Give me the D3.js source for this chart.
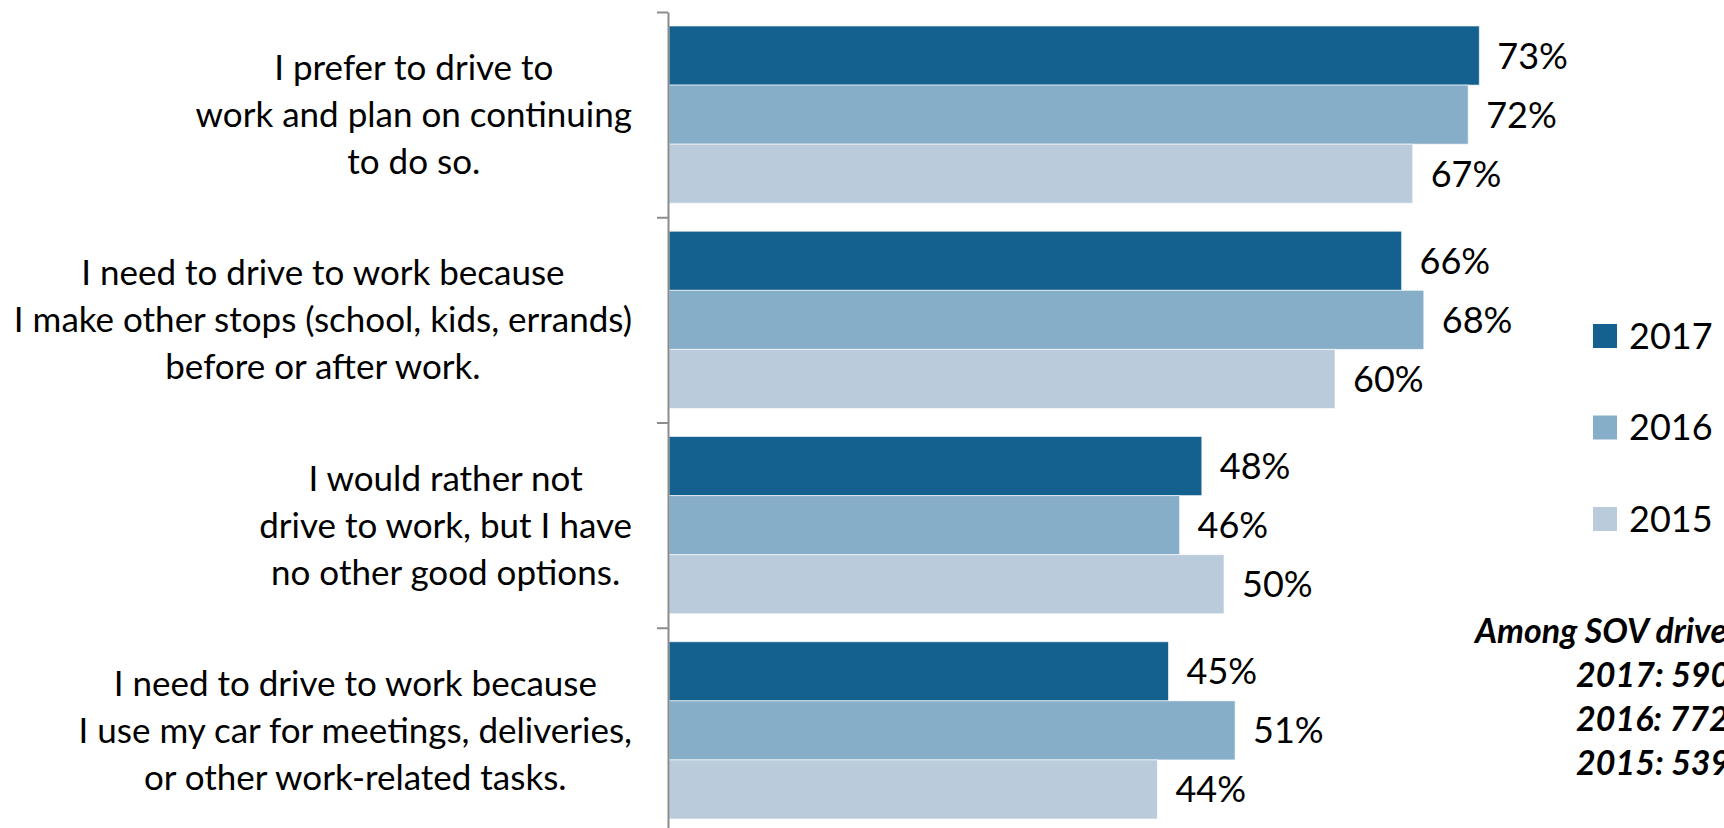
<!DOCTYPE html>
<html>
<head>
<meta charset="utf-8">
<script src="https://cdn.jsdelivr.net/npm/d3@7"></script>
<style>
  body { margin: 0; background: #ffffff; }
  svg { display: block; }
  text { font-family: Lato, "Open Sans", "Noto Sans", sans-serif; fill: #000; }
</style>
</head>
<body>
<svg id="chart" width="1724" height="828"></svg>
<script>
// Survey statements (one entry per line of the wrapped label)
const categories = [
  "I prefer to drive to\nwork and plan on continuing\nto do so.",
  "I need to drive to work because\nI make other stops (school, kids, errands)\nbefore or after work.",
  "I would rather not\ndrive to work, but I have\nno other good options.",
  "I need to drive to work because\nI use my car for meetings, deliveries,\nor other work-related tasks."
];
const years = ["2017", "2016", "2015"];
const values2017 = [0.73, 0.66, 0.48, 0.45];
const values2016 = [0.72, 0.68, 0.46, 0.51];
const values2015 = [0.67, 0.60, 0.50, 0.44];
const yearColors = ["#14608F", "#87AEC8", "#BACBDC"];
const sampleNote = ["Among SOV drivers", "2017: 590", "2016: 772", "2015: 539"];

const seriesValues = { "2017": values2017, "2016": values2016, "2015": values2015 };
const rows = categories.map((c, i) => ({
  category: c,
  bars: years.map(yr => ({ year: yr, value: seriesValues[yr][i] }))
}));

const svg = d3.select("#chart");
const plotLeft = 669, plotRight = 1557, plotTop = 12, plotBottom = 833;

const x = d3.scaleLinear().domain([0, 0.8]).range([plotLeft, plotRight]);
const y = d3.scaleBand().domain(categories).range([plotTop, plotBottom]).paddingInner(0).paddingOuter(0);
const yInner = d3.scaleBand().domain(years).range([0, y.bandwidth()]).paddingInner(0).paddingOuter(0.237);
const color = d3.scaleOrdinal().domain(years).range(yearColors);
const pct = d3.format(".0%");

// Bars
const groups = svg.append("g").selectAll("g")
  .data(rows).join("g")
  .attr("transform", d => `translate(0,${y(d.category)})`);

groups.selectAll("rect")
  .data(d => d.bars).join("rect")
  .attr("x", x(0))
  .attr("y", d => yInner(d.year))
  .attr("width", d => x(d.value) - x(0))
  .attr("height", yInner.bandwidth())
  .attr("fill", d => color(d.year))
  .attr("stroke", "#ffffff")
  .attr("stroke-opacity", 0.6)
  .attr("stroke-width", 1);

// Value labels
groups.selectAll("text.value")
  .data(d => d.bars).join("text")
  .attr("class", "value")
  .attr("x", d => x(d.value) + 18)
  .attr("y", d => yInner(d.year) + yInner.bandwidth() / 2)
  .attr("dy", "0.36em")
  .style("font-size", "36px")
  .text(d => pct(d.value));

// Category axis: ticks on band boundaries
const yEdges = d3.scaleLinear().domain([0, categories.length]).range([plotTop, plotBottom]);
const axis = svg.append("g")
  .attr("transform", `translate(${plotLeft - 1},0)`)
  .call(d3.axisLeft(yEdges).tickValues(d3.range(categories.length + 1)).tickSize(11).tickSizeOuter(0).tickFormat(""));
axis.selectAll("path, line").attr("stroke", "#8c8c8c").attr("stroke-width", 2);

// Category labels: each wrapped block centered, block right edge near the axis
const labelRight = 632, lineGap = 47;
rows.forEach(r => {
  const lines = r.category.split("\n");
  const t = svg.append("text")
    .attr("text-anchor", "middle")
    .style("font-size", "35px");
  const mid = y(r.category) + y.bandwidth() / 2;
  lines.forEach((ln, j) => {
    t.append("tspan")
      .attr("y", mid + (j - (lines.length - 1) / 2) * lineGap)
      .attr("dy", "0.36em")
      .text(ln);
  });
  let maxW = 0;
  t.selectAll("tspan").each(function() { maxW = Math.max(maxW, this.getComputedTextLength()); });
  t.selectAll("tspan").attr("x", labelRight - maxW / 2);
});

// Legend
const legend = svg.append("g").attr("transform", "translate(1593,324)");
const legendY = d3.scalePoint().domain(years).range([0, 183]);
const li = legend.selectAll("g").data(years).join("g")
  .attr("transform", d => `translate(0,${legendY(d)})`);
li.append("rect").attr("width", 24).attr("height", 24).attr("fill", d => color(d));
li.append("text").attr("x", 36).attr("y", 12).attr("dy", "0.36em")
  .style("font-size", "36px").text(d => d);

// Sample sizes
const note = svg.append("text")
  .style("font-size", "34px").style("font-weight", "bold").style("font-style", "italic");
note.append("tspan").attr("x", 1475).attr("y", 643).text(sampleNote[0]);
sampleNote.slice(1).forEach((s, i) => {
  note.append("tspan").attr("x", 1576).attr("y", 687 + i * 44).text(s);
});
</script>
</body>
</html>
